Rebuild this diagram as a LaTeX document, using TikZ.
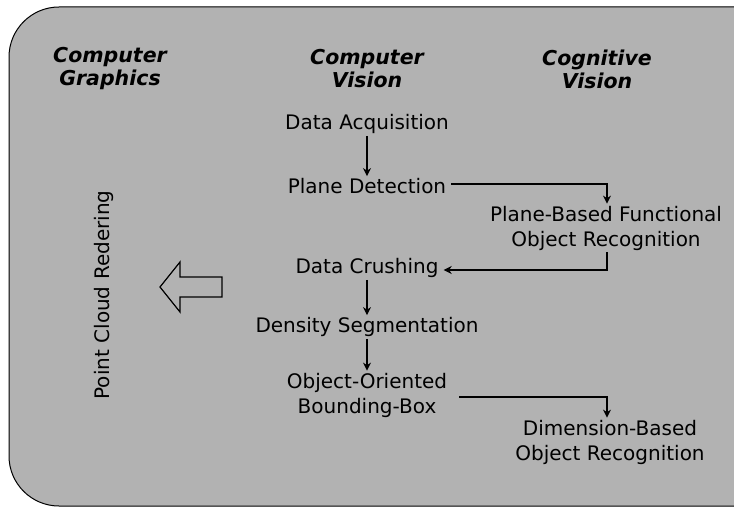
\documentclass[tikz,border=0pt]{standalone}
\usepackage{fontspec}
\setmainfont{DejaVu Sans}
\usetikzlibrary{arrows.meta}
\begin{document}
\begin{tikzpicture}[x=1pt,y=-1pt,
  lbl/.style={font=\fontsize{20}{25}\selectfont, align=center, inner sep=2pt},
  hdr/.style={font=\fontsize{20.5}{23}\selectfont\bfseries\itshape, align=center},
  conn/.style={draw=black, line width=1.2pt, -{Stealth[length=8pt,width=8pt]}}]
\useasboundingbox (0,0) rectangle (734,508);
\fill[fill=white] (0,0) rectangle (734,508);
\draw[fill=black!30, line width=1pt, rounded corners=50pt] (9,7) rectangle (790,506);
\node[hdr] (hcg) at (110,69) {Computer\\Graphics};
\node[hdr] (hcv) at (367,69) {Computer\\Vision};
\node[hdr] (hcog) at (597,69) {Cognitive\\Vision};
\node[lbl] (da) at (367,124) {Data Acquisition};
\node[lbl] (pd) at (367,186) {Plane Detection};
\node[lbl] (pbf) at (606,228) {Plane-Based Functional\\Object Recognition};
\node[lbl] (dc) at (367,268) {Data Crushing};
\node[lbl] (ds) at (367,327) {Density Segmentation};
\node[lbl] (oob) at (367,395) {Object-Oriented\\Bounding-Box};
\node[lbl] (dbor) at (610,442) {Dimension-Based\\Object Recognition};
\node[lbl, rotate=90] (pcr) at (104,295) {Point Cloud Redering};
\draw[line width=1.2pt, line join=miter] (160,287) -- (180,262) -- (180,277) -- (222,277) -- (222,297) -- (180,297) -- (180,312) -- cycle;
\coordinate (c1) at (607,184);
\coordinate (c2) at (607,270);
\coordinate (c3) at (607,397);
\draw[conn] (da.south) -- (pd.north);
\draw[conn] ([xshift=3pt]pd.east |- c1) -- (c1) -- (pbf.north -| c1);
\draw[conn] (pbf.south -| c2) -- (c2) -- ([xshift=3pt]dc.east |- c2);
\draw[conn] (dc.south) -- (ds.north);
\draw[conn] (ds.south) -- (oob.north);
\draw[conn] ([xshift=10pt]oob.east |- c3) -- (c3) -- (dbor.north -| c3);
\end{tikzpicture}
\end{document}
